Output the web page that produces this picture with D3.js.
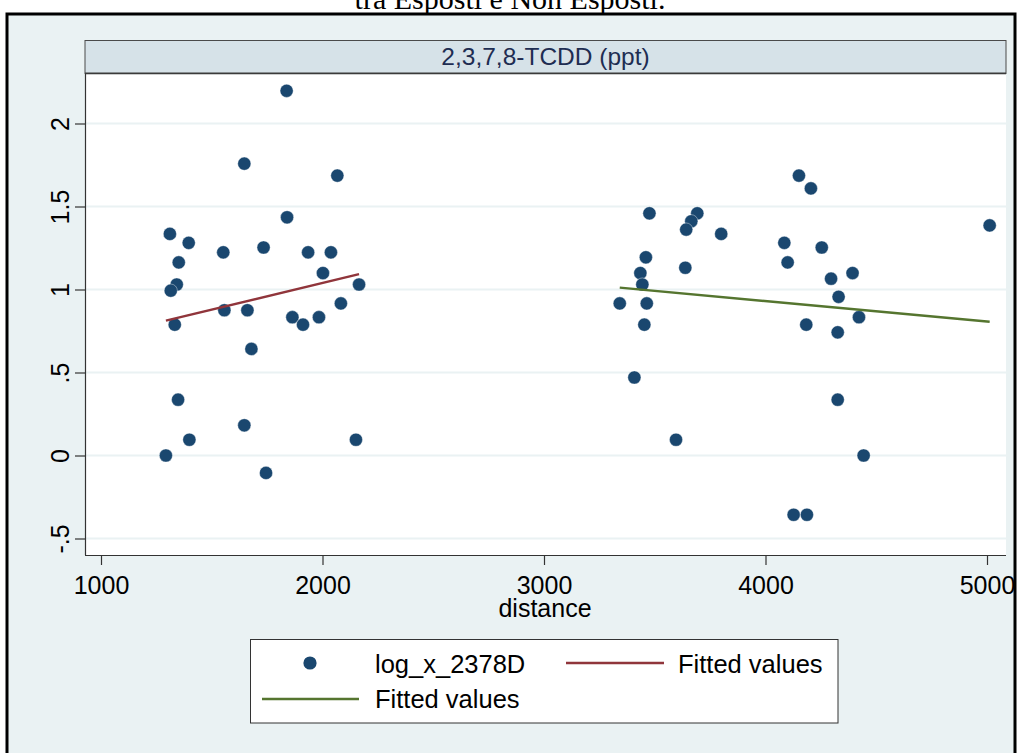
<!DOCTYPE html>
<html>
<head>
<meta charset="utf-8">
<script src="https://cdn.jsdelivr.net/npm/d3@7"></script>
<style>
  html, body { margin: 0; padding: 0; background: #ffffff; }
  svg { display: block; }
</style>
</head>
<body>
<svg id="chart" width="1018" height="753"></svg>
<script>
// ---- Data ----
const titleText = "tra Esposti e Non Esposti.";
const panelTitle = "2,3,7,8-TCDD (ppt)";
const xLabel = "distance";
const xTicks = [1000, 2000, 3000, 4000, 5000];
const yTicks = [-0.5, 0, 0.5, 1, 1.5, 2];
const yTickLabels = ["-.5", "0", ".5", "1", "1.5", "2"];

// exposed group (closer)
const nearDist = [1838, 1647, 2067, 1840, 1311, 1396, 1351, 1552, 1734, 1935, 2038, 2002, 1342, 1315, 2165,
                  1557, 1661, 2083, 1333, 1864, 1912, 1984, 1679, 1348, 1647, 1399, 1293, 2151, 1745];
const nearVal  = [2.197, 1.758, 1.686, 1.435, 1.335, 1.281, 1.163, 1.224, 1.253, 1.224, 1.224, 1.099, 1.030, 0.993, 1.030,
                  0.875, 0.875, 0.916, 0.788, 0.833, 0.788, 0.833, 0.642, 0.336, 0.182, 0.095, 0.000, 0.095, -0.105];

// non-exposed group (farther)
const farDist = [4151, 4205, 3476, 3692, 3665, 3642, 3800, 4085, 4254, 4100, 3460, 3638, 3435, 3444, 3342,
                 3464, 3453, 4296, 4330, 4184, 4326, 3408, 4326, 3596, 4393, 4422, 5012, 4443, 4127, 4187];
const farVal  = [1.686, 1.609, 1.459, 1.459, 1.411, 1.361, 1.335, 1.281, 1.253, 1.163, 1.194, 1.131, 1.099, 1.030, 0.916,
                 0.916, 0.788, 1.065, 0.956, 0.788, 0.742, 0.470, 0.336, 0.095, 1.099, 0.833, 1.386, 0.000, -0.357, -0.357];

// fitted lines (endpoints)
const fitNearDist = [1293, 2165];
const fitNearVal  = [0.812, 1.093];
const fitFarDist  = [3342, 5012];
const fitFarVal   = [1.011, 0.806];

const legendLabels = ["log_x_2378D", "Fitted values", "Fitted values"];

// ---- Drawing ----
const svg = d3.select("#chart");
const BG = "#eaf2f3", NAVY = "#1a476f", RED = "#90353b", GREEN = "#55752f";
const FONT = "'Liberation Sans', Arial, Helvetica, sans-serif";

const plot = { left: 85, right: 1006, top: 74, bottom: 555 };

svg.append("rect").attr("x", 0).attr("y", 0).attr("width", 1018).attr("height", 753).attr("fill", "#ffffff");
svg.append("rect").attr("x", 7).attr("y", 14).attr("width", 1008).attr("height", 760)
  .attr("fill", BG).attr("stroke", "#000").attr("stroke-width", 3);

svg.append("text").attr("x", 510).attr("y", 9).attr("text-anchor", "middle")
  .attr("font-family", "'Liberation Serif', 'Times New Roman', serif").attr("font-size", 30)
  .attr("fill", "#000").text(titleText);

// panel header strip
svg.append("rect").attr("x", plot.left).attr("y", 40.5).attr("width", plot.right - plot.left).attr("height", 33)
  .attr("fill", "#d6e2e8").attr("stroke", "#4a4a4a").attr("stroke-width", 1);
svg.append("line").attr("x1", plot.left).attr("x2", plot.right).attr("y1", 73.5).attr("y2", 73.5)
  .attr("stroke", "#3a3a3a").attr("stroke-width", 2);
svg.append("text").attr("x", (plot.left + plot.right) / 2).attr("y", 65).attr("text-anchor", "middle")
  .attr("font-family", FONT).attr("font-size", 24.5).attr("fill", "#1e2d52").text(panelTitle);

// plot region
svg.append("rect").attr("x", plot.left).attr("y", plot.top + 0.5).attr("width", plot.right - plot.left)
  .attr("height", plot.bottom - plot.top - 0.5).attr("fill", "#ffffff");

const x = d3.scaleLinear().domain([1000, 5000]).range([101, 987]);
const y = d3.scaleLinear().domain([-0.5, 2]).range([538.5, 123.5]);

// gridlines
svg.append("g").selectAll("line").data(yTicks).join("line")
  .attr("x1", plot.left).attr("x2", plot.right)
  .attr("y1", d => y(d)).attr("y2", d => y(d))
  .attr("stroke", BG).attr("stroke-width", 2);

// y axis
const yAxis = d3.axisLeft(y).tickValues(yTicks).tickSize(10).tickPadding(6)
  .tickFormat((d, i) => yTickLabels[i]);
const gy = svg.append("g").attr("transform", `translate(${plot.left},0)`).call(yAxis);
gy.select(".domain").attr("d", `M0.5,${plot.top}V${plot.bottom}`).attr("stroke", "#333").attr("stroke-width", 1.2);
gy.selectAll(".tick line").attr("stroke", "#333").attr("stroke-width", 1.2);
gy.selectAll(".tick text")
  .attr("font-family", FONT).attr("font-size", 25).attr("fill", "#000")
  .attr("x", 0).attr("dy", 0).attr("text-anchor", "middle")
  .attr("transform", "translate(-16,0) rotate(-90)");

// x axis
const xAxis = d3.axisBottom(x).tickValues(xTicks).tickSize(10).tickPadding(6).tickFormat(d3.format("d"));
const gx = svg.append("g").attr("transform", `translate(0,${plot.bottom})`).call(xAxis);
gx.select(".domain").attr("d", `M${plot.left},0.5H${plot.right}`).attr("stroke", "#333").attr("stroke-width", 1.2);
gx.selectAll(".tick line").attr("stroke", "#333").attr("stroke-width", 1.2);
gx.selectAll(".tick text").attr("font-family", FONT).attr("font-size", 25).attr("fill", "#000")
  .attr("y", 39).attr("dy", 0);

svg.append("text").attr("x", 545).attr("y", 617).attr("text-anchor", "middle")
  .attr("font-family", FONT).attr("font-size", 25).attr("fill", "#000").text(xLabel);

// points
const pts = nearDist.map((d, i) => ({ d, v: nearVal[i] }))
  .concat(farDist.map((d, i) => ({ d, v: farVal[i] })));
svg.append("g").selectAll("circle").data(pts).join("circle")
  .attr("cx", p => x(p.d)).attr("cy", p => y(p.v)).attr("r", 6.6)
  .attr("fill", NAVY).attr("stroke", "#ffffff").attr("stroke-width", 0.4);

// fitted lines
const line = d3.line().x(p => x(p[0])).y(p => y(p[1]));
svg.append("path").attr("d", line(fitNearDist.map((d, i) => [d, fitNearVal[i]])))
  .attr("fill", "none").attr("stroke", RED).attr("stroke-width", 2.4);
svg.append("path").attr("d", line(fitFarDist.map((d, i) => [d, fitFarVal[i]])))
  .attr("fill", "none").attr("stroke", GREEN).attr("stroke-width", 2.4);

// legend
const lg = svg.append("g");
lg.append("rect").attr("x", 250.5).attr("y", 639.5).attr("width", 587.5).attr("height", 83.5)
  .attr("fill", "#ffffff").attr("stroke", "#333").attr("stroke-width", 1);
lg.append("circle").attr("cx", 310).attr("cy", 663).attr("r", 6.6).attr("fill", NAVY);
lg.append("line").attr("x1", 566).attr("x2", 664).attr("y1", 663).attr("y2", 663)
  .attr("stroke", RED).attr("stroke-width", 2.4);
lg.append("line").attr("x1", 262).attr("x2", 359).attr("y1", 699).attr("y2", 699)
  .attr("stroke", GREEN).attr("stroke-width", 2.4);
const legText = [[375, 673, legendLabels[0]], [678, 673, legendLabels[1]], [375, 708, legendLabels[2]]];
lg.selectAll("text").data(legText).join("text")
  .attr("x", t => t[0]).attr("y", t => t[1])
  .attr("font-family", FONT).attr("font-size", 25.5).attr("fill", "#000").text(t => t[2]);
</script>
</body>
</html>
